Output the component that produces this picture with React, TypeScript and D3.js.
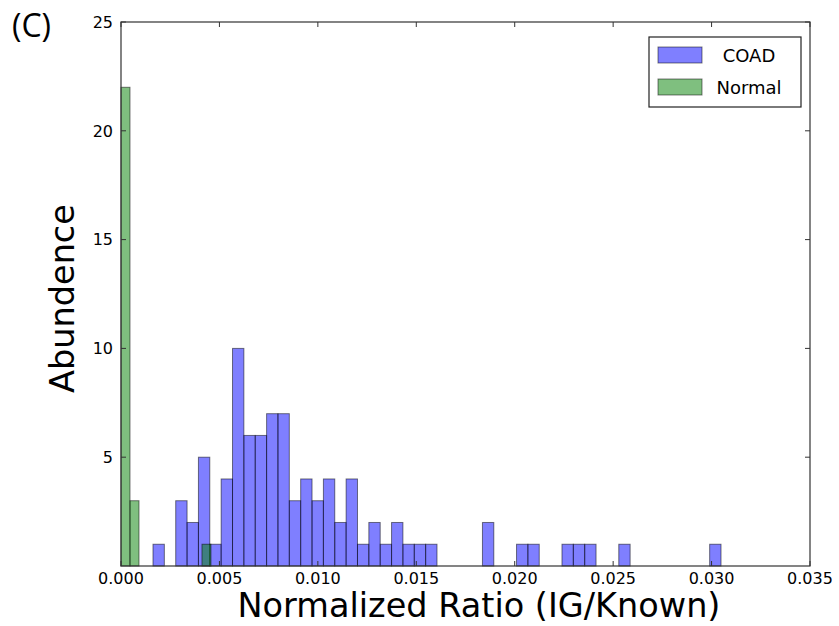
import React, { useEffect, useRef } from 'react';
import * as d3 from 'd3';

// COAD histogram: 50 bins from 0.001625 to 0.03048
const coadStart = 0.001625;
const coadEnd = 0.03048;
const coadCounts = [
  1, 0, 3, 2, 5, 1, 4, 10, 6, 6,
  7, 7, 3, 4, 3, 4, 2, 4, 1, 2,
  1, 2, 1, 1, 1, 0, 0, 0, 0, 2,
  0, 0, 1, 1, 0, 0, 1, 1, 1, 0,
  0, 1, 0, 0, 0, 0, 0, 0, 0, 1,
];

// Normal histogram: 10 bins from 0 to 0.00457
const normalStart = 0;
const normalEnd = 0.00457;
const normalCounts = [22, 3, 0, 0, 0, 0, 0, 0, 0, 1];

const xTicks = [0, 0.005, 0.01, 0.015, 0.02, 0.025, 0.03, 0.035];
const yTicks = [5, 10, 15, 20, 25];
const seriesNames = ['COAD', 'Normal'];
const seriesColors = ['#0000ff', '#008000'];

function toBins(start: number, end: number, counts: number[]) {
  const w = (end - start) / counts.length;
  return counts.map((c, i) => ({ x0: start + i * w, x1: start + (i + 1) * w, n: c }));
}

export default function App() {
  const svgRef = useRef<SVGSVGElement>(null);

  useEffect(() => {
    const svg = d3.select(svgRef.current);
    svg.selectAll('*').remove();

    const width = 839;
    const height = 626;
    const margin = { top: 22, right: 29, bottom: 60, left: 121 };
    const innerW = width - margin.left - margin.right;
    const innerH = height - margin.top - margin.bottom;

    const x = d3.scaleLinear().domain([0, 0.035]).range([0, innerW]);
    const y = d3.scaleLinear().domain([0, 25]).range([innerH, 0]);

    const g = svg.append('g').attr('transform', `translate(${margin.left},${margin.top})`);

    const series = [
      toBins(coadStart, coadEnd, coadCounts),
      toBins(normalStart, normalEnd, normalCounts),
    ];

    series.forEach((bins, si) => {
      g.append('g')
        .selectAll('rect')
        .data(bins.filter((b) => b.n > 0))
        .enter()
        .append('rect')
        .attr('x', (d) => x(d.x0))
        .attr('y', (d) => y(d.n))
        .attr('width', (d) => x(d.x1) - x(d.x0))
        .attr('height', (d) => y(0) - y(d.n))
        .attr('fill', seriesColors[si])
        .attr('fill-opacity', 0.5)
        .attr('stroke', '#000')
        .attr('stroke-opacity', 0.5)
        .attr('stroke-width', 1);
    });

    // frame
    g.append('rect')
      .attr('x', 0)
      .attr('y', 0)
      .attr('width', innerW)
      .attr('height', innerH)
      .attr('fill', 'none')
      .attr('stroke', '#333')
      .attr('stroke-width', 1.2);

    const tickLen = 5;
    const font = 'DejaVu Sans, sans-serif';

    // x ticks (bottom and top, inward)
    xTicks.forEach((t) => {
      g.append('line').attr('x1', x(t)).attr('x2', x(t)).attr('y1', innerH).attr('y2', innerH - tickLen).attr('stroke', '#333');
      g.append('line').attr('x1', x(t)).attr('x2', x(t)).attr('y1', 0).attr('y2', tickLen).attr('stroke', '#333');
      g.append('text')
        .attr('x', x(t))
        .attr('y', innerH + 18)
        .attr('text-anchor', 'middle')
        .attr('font-family', font)
        .attr('font-size', 16)
        .text(d3.format('.3f')(t));
    });

    // y ticks (left and right, inward)
    yTicks.forEach((t) => {
      g.append('line').attr('x1', 0).attr('x2', tickLen).attr('y1', y(t)).attr('y2', y(t)).attr('stroke', '#333');
      g.append('line').attr('x1', innerW).attr('x2', innerW - tickLen).attr('y1', y(t)).attr('y2', y(t)).attr('stroke', '#333');
      g.append('text')
        .attr('x', -8)
        .attr('y', y(t))
        .attr('dy', '0.36em')
        .attr('text-anchor', 'end')
        .attr('font-family', font)
        .attr('font-size', 16)
        .text(t);
    });

    // axis labels
    svg.append('text')
      .attr('x', 479)
      .attr('y', 617)
      .attr('text-anchor', 'middle')
      .attr('font-family', font)
      .attr('font-size', 33.5)
      .text('Normalized Ratio (IG/Known)');

    svg.append('text')
      .attr('transform', 'translate(74,298.5) rotate(-90)')
      .attr('text-anchor', 'middle')
      .attr('font-family', font)
      .attr('font-size', 33.5)
      .text('Abundence');

    // legend
    const lg = svg.append('g').attr('transform', 'translate(649,37)');
    lg.append('rect')
      .attr('width', 152)
      .attr('height', 70)
      .attr('fill', '#fff')
      .attr('stroke', '#222')
      .attr('stroke-width', 1.2);
    seriesNames.forEach((name, i) => {
      lg.append('rect')
        .attr('x', 9)
        .attr('y', 10 + i * 32)
        .attr('width', 44)
        .attr('height', 16)
        .attr('fill', seriesColors[i])
        .attr('fill-opacity', 0.5)
        .attr('stroke', '#000')
        .attr('stroke-opacity', 0.5);
      lg.append('text')
        .attr('x', 100)
        .attr('y', 19 + i * 32)
        .attr('dy', '0.36em')
        .attr('text-anchor', 'middle')
        .attr('font-family', font)
        .attr('font-size', 18)
        .text(name);
    });

    // panel label
    svg.append('text')
      .attr('x', 12)
      .attr('y', 37)
      .attr('font-family', 'Open Sans, sans-serif')
      .attr('font-size', 32)
      .text('(C)');
  }, []);

  return (
    <svg
      ref={svgRef}
      width={839}
      height={626}
      style={{ position: 'absolute', left: 0, top: 0, display: 'block' }}
    />
  );
}
